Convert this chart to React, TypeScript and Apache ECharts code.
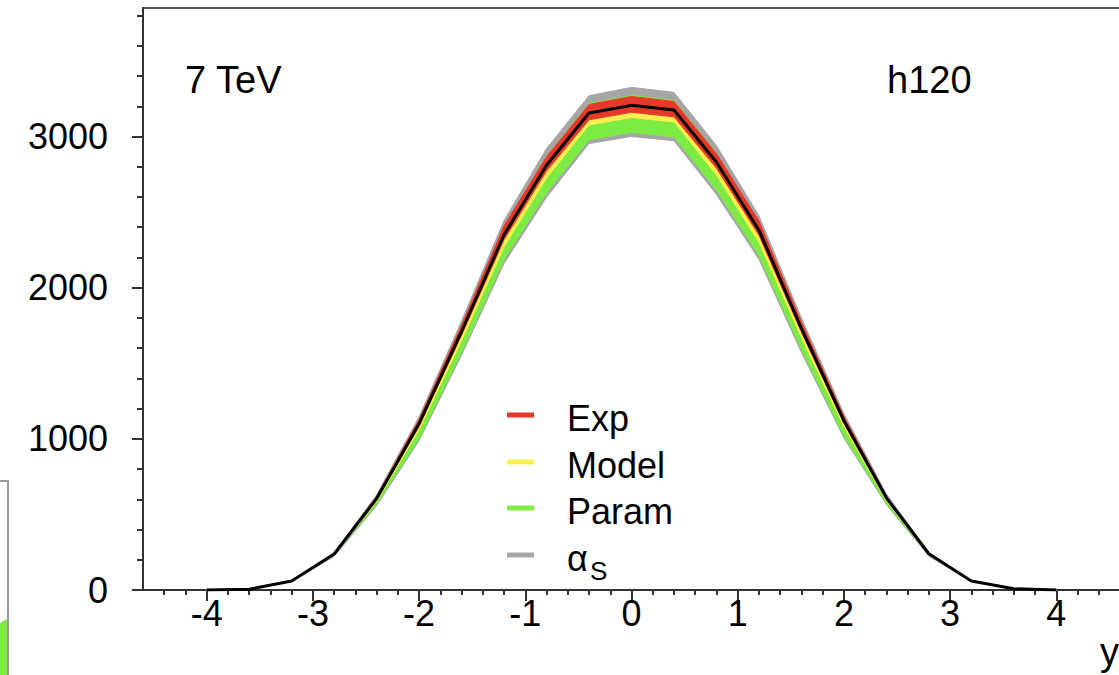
import React, { useEffect, useRef } from "react";
import * as echarts from "echarts";

// Rapidity bin centres and the central distribution
const rapidity = [-4, -3.6, -3.2, -2.8, -2.4, -2.0, -1.6, -1.2, -0.8, -0.4, 0, 0.4, 0.8, 1.2, 1.6, 2.0, 2.4, 2.8, 3.2, 3.6, 4.0];
const central = [0, 5, 60, 238, 605, 1100, 1710, 2350, 2810, 3155, 3206, 3175, 2830, 2380, 1730, 1120, 610, 240, 60, 8, 0];

// Uncertainty envelopes (upper / lower edges)
const alphaSUp = [0, 5, 62, 247, 630, 1146, 1780, 2445, 2920, 3270, 3325, 3292, 2940, 2476, 1800, 1167, 636, 249, 62, 8, 0];
const alphaSDown = [0, 5, 56, 222, 558, 988, 1554, 2160, 2598, 2953, 3000, 2972, 2616, 2188, 1572, 1006, 565, 224, 56, 7, 0];
const paramUp = [0, 5, 61, 243, 617, 1122, 1744, 2397, 2866, 3218, 3271, 3238, 2887, 2428, 1765, 1142, 622, 245, 61, 8, 0];
const paramDown = [0, 5, 57, 228, 569, 1001, 1573, 2186, 2627, 2978, 3027, 2997, 2646, 2213, 1592, 1019, 573, 230, 57, 8, 0];
const modelUp = [0, 5, 61, 242, 615, 1119, 1739, 2390, 2858, 3208, 3262, 3229, 2878, 2420, 1759, 1139, 620, 244, 61, 8, 0];
const modelDown = [0, 5, 59, 231, 586, 1062, 1650, 2270, 2726, 3076, 3126, 3096, 2745, 2300, 1670, 1081, 591, 233, 59, 8, 0];
const expUp = [0, 5, 61, 243, 618, 1128, 1753, 2409, 2866, 3212, 3265, 3232, 2886, 2440, 1773, 1148, 623, 245, 61, 8, 0];
const expDown = [0, 5, 59, 235, 597, 1085, 1686, 2317, 2771, 3110, 3160, 3130, 2790, 2347, 1706, 1104, 601, 237, 59, 8, 0];

// Axis tick labels
const xTickLabels = [-4, -3, -2, -1, 0, 1, 2, 3, 4];
const yTickLabels = [0, 1000, 2000, 3000];

const FONT = "'Liberation Sans', Arial, Helvetica, sans-serif";
const AXIS_COLOR = "#333";

const COLORS = {
  exp: "#e6392b",
  model: "#fcef4e",
  param: "#7cec45",
  alphaS: "#a6a6a6",
};

// Draw order: widest envelope first, innermost last
const bands = [
  { key: "alphaS", color: COLORS.alphaS, upper: alphaSUp, lower: alphaSDown },
  { key: "Param", color: COLORS.param, upper: paramUp, lower: paramDown },
  { key: "Model", color: COLORS.model, upper: modelUp, lower: modelDown },
  { key: "Exp", color: COLORS.exp, upper: expUp, lower: expDown },
];

const legendRows = [
  { label: "Exp", color: COLORS.exp, y: 415 },
  { label: "Model", color: COLORS.model, y: 462 },
  { label: "Param", color: COLORS.param, y: 508 },
  { label: "α", sub: "S", color: COLORS.alphaS, y: 555 },
];

function minorTicks(from: number, to: number, step: number) {
  const out: number[] = [];
  const n = Math.round((to - from) / step);
  for (let i = 0; i <= n; i++) out.push(Math.round((from + i * step) * 1000) / 1000);
  return out;
}

export default function App() {
  const ref = useRef<HTMLDivElement>(null);

  useEffect(() => {
    document.body.style.margin = "0";
    if (!ref.current) return;
    const chart = echarts.init(ref.current, undefined, { renderer: "svg" });

    // Each envelope is one filled polygon: upper edge left→right, lower edge back
    const bandSeries = bands.map((b) => ({
      type: "custom",
      name: b.key,
      silent: true,
      data: [[0, 0]],
      renderItem: (_params: any, api: any) => {
        const top = rapidity.map((x, i) => api.coord([x, b.upper[i]]));
        const bottom = rapidity.map((x, i) => api.coord([x, b.lower[i]])).reverse();
        return {
          type: "polygon",
          shape: { points: top.concat(bottom) },
          style: { fill: b.color, stroke: b.color, lineWidth: 1 },
        };
      },
    }));

    const graphics: any[] = [
      // neighbouring panel edge on the far left
      {
        type: "rect",
        shape: { x: -6, y: 481, width: 14, height: 220 },
        style: { fill: "#fff", stroke: "#999", lineWidth: 2 },
      },
      {
        type: "polygon",
        shape: { points: [[0, 623], [7, 619], [7, 675], [0, 675]] },
        style: { fill: COLORS.param },
      },
      {
        type: "text",
        x: 185,
        y: 80,
        style: { text: "7 TeV", font: `38px ${FONT}`, fill: "#000", verticalAlign: "middle" },
      },
      {
        type: "text",
        x: 887,
        y: 80,
        style: { text: "h120", font: `38px ${FONT}`, fill: "#000", verticalAlign: "middle" },
      },
      {
        type: "text",
        x: 1100,
        y: 652,
        style: { text: "y", font: `38px ${FONT}`, fill: "#000", verticalAlign: "middle" },
      },
    ];

    legendRows.forEach((r) => {
      graphics.push({
        type: "rect",
        z: 100,
        shape: { x: 507, y: r.y - 2.5, width: 27, height: 5 },
        style: { fill: r.color },
      });
      graphics.push({
        type: "text",
        z: 100,
        x: 567,
        y: r.y + 3,
        style: { text: r.label, font: `36px ${FONT}`, fill: "#000", verticalAlign: "middle" },
      });
      if (r.sub) {
        graphics.push({
          type: "text",
          z: 100,
          x: 590,
          y: r.y + 16,
          style: { text: r.sub, font: `26px ${FONT}`, fill: "#000", verticalAlign: "middle" },
        });
      }
    });

    const tickFormatter = (v: number) => String(v);

    const option: any = {
      animation: false,
      backgroundColor: "#fff",
      grid: {
        left: 143,
        top: 8,
        width: 977,
        height: 582,
        show: true,
        borderColor: "#555",
        borderWidth: 2,
        containLabel: false,
        outerBoundsMode: "none",
      },
      xAxis: [
        {
          type: "value",
          min: -4.6,
          max: 4.6,
          minInterval: 1,
          maxInterval: 1,
          position: "bottom",
          axisLine: { onZero: false, lineStyle: { color: AXIS_COLOR, width: 2 } },
          axisTick: { show: true, length: 11, lineStyle: { color: AXIS_COLOR, width: 2 }, customValues: xTickLabels },
          axisLabel: {
            customValues: xTickLabels,
            formatter: tickFormatter,
            fontSize: 36,
            fontFamily: FONT,
            color: "#000",
            margin: 5,
          },
          splitLine: { show: false },
        },
        {
          type: "value",
          min: -4.6,
          max: 4.6,
          position: "bottom",
          axisLine: { show: false, onZero: false },
          axisTick: { show: true, length: 5, lineStyle: { color: AXIS_COLOR, width: 2 }, customValues: minorTicks(-4.4, 4.4, 0.2) },
          axisLabel: { show: false },
          splitLine: { show: false },
        },
      ],
      yAxis: [
        {
          type: "value",
          min: 0,
          max: 3850,
          minInterval: 1000,
          maxInterval: 1000,
          position: "left",
          axisLine: { show: true, onZero: false, lineStyle: { color: AXIS_COLOR, width: 2 } },
          axisTick: { show: true, length: 11, lineStyle: { color: AXIS_COLOR, width: 2 }, customValues: yTickLabels },
          axisLabel: {
            customValues: yTickLabels,
            formatter: tickFormatter,
            fontSize: 36,
            fontFamily: FONT,
            color: "#000",
            margin: 35,
          },
          splitLine: { show: false },
        },
        {
          type: "value",
          min: 0,
          max: 3850,
          position: "left",
          axisLine: { show: false, onZero: false },
          axisTick: { show: true, length: 6, lineStyle: { color: AXIS_COLOR, width: 2 }, customValues: minorTicks(200, 3800, 200) },
          axisLabel: { show: false },
          splitLine: { show: false },
        },
      ],
      series: [
        ...bandSeries,
        {
          type: "line",
          name: "central",
          data: rapidity.map((x, i) => [x, central[i]]),
          symbol: "none",
          lineStyle: { color: "#000", width: 3 },
          z: 5,
          silent: true,
        },
      ],
      graphic: graphics,
    };

    chart.setOption(option);
    return () => chart.dispose();
  }, []);

  return <div ref={ref} style={{ width: 1119, height: 675 }} />;
}
